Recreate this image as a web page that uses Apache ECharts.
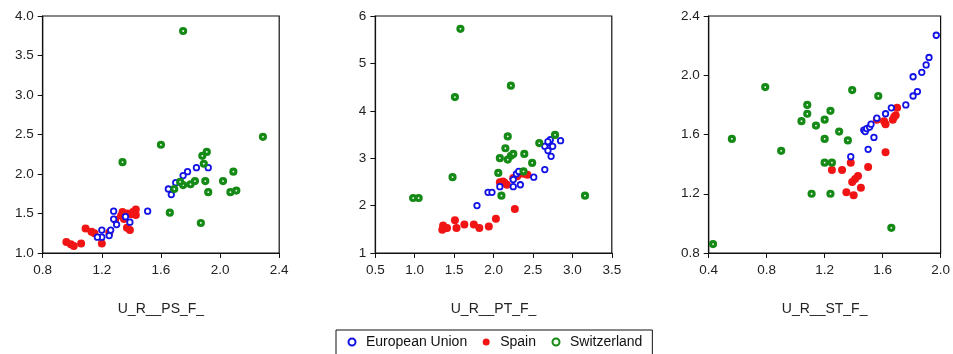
<!DOCTYPE html>
<html>
<head>
<meta charset="utf-8">
<script src="https://cdn.jsdelivr.net/npm/echarts@6/dist/echarts.min.js"></script>
<style>
html,body{margin:0;padding:0;background:#fff;}
#chart{width:953px;height:354px;}
</style>
</head>
<body>
<div id="chart"></div>
<script>
// ---- Data ----
var seriesNames = ['European Union', 'Spain', 'Switzerland'];
var axisTitles = ['U_R__PS_F_', 'U_R__PT_F_', 'U_R__ST_F_'];

// Panel 1: U_R__PS_F_
var psEU = [[1.92,2.08],[1.84,2.08],[1.78,2.03],[1.75,1.98],[1.70,1.89],[1.65,1.81],[1.67,1.74],[1.51,1.53],[1.28,1.53],[1.28,1.43],[1.30,1.36],[1.36,1.46],[1.39,1.39],[1.26,1.29],[1.20,1.29],[1.25,1.22],[1.20,1.20],[1.17,1.20]];
var psES = [[0.96,1.14],[0.99,1.11],[1.01,1.09],[1.06,1.12],[1.09,1.31],[1.13,1.27],[1.15,1.25],[1.20,1.12],[1.25,1.26],[1.29,1.42],[1.33,1.47],[1.34,1.52],[1.35,1.43],[1.37,1.50],[1.37,1.32],[1.39,1.29],[1.40,1.49],[1.43,1.55],[1.43,1.48],[1.41,1.52]];
var psCH = [[1.75,3.81],[2.29,2.47],[1.60,2.37],[1.34,2.15],[1.91,2.28],[1.88,2.23],[1.89,2.13],[2.09,2.03],[2.02,1.91],[1.90,1.91],[1.83,1.91],[1.80,1.87],[1.75,1.86],[1.69,1.81],[1.73,1.90],[1.92,1.77],[2.07,1.77],[2.11,1.79],[1.66,1.51],[1.87,1.38]];

// Panel 2: U_R__PT_F_
var ptEU = [[1.79,2.00],[1.93,2.28],[1.98,2.28],[2.08,2.40],[2.25,2.40],[2.25,2.55],[2.34,2.44],[2.29,2.67],[2.32,2.72],[2.51,2.60],[2.65,2.76],[2.65,3.25],[2.71,3.32],[2.72,3.39],[2.69,3.16],[2.75,3.25],[2.73,3.04],[2.85,3.37],[2.69,3.35]];
var ptES = [[1.36,1.58],[1.35,1.49],[1.37,1.53],[1.41,1.53],[1.51,1.69],[1.53,1.53],[1.63,1.60],[1.75,1.60],[1.82,1.53],[1.94,1.56],[2.03,1.72],[2.27,1.93],[2.08,2.49],[2.14,2.48],[2.17,2.44],[2.25,2.58],[2.30,2.62],[2.38,2.67],[2.43,2.65],[2.12,2.51]];
var ptCH = [[1.58,5.73],[2.22,4.53],[1.51,4.29],[0.98,2.16],[1.05,2.16],[1.48,2.60],[3.16,2.21],[2.10,2.21],[2.06,2.69],[2.08,3.00],[2.15,3.21],[2.18,3.46],[2.18,2.97],[2.22,3.05],[2.25,3.09],[2.39,3.09],[2.49,2.90],[2.58,3.32],[2.78,3.49],[2.38,2.72]];

// Panel 3: U_R__ST_F_
var stEU = [[1.38,1.45],[1.50,1.50],[1.54,1.58],[1.47,1.63],[1.48,1.62],[1.49,1.64],[1.51,1.65],[1.52,1.67],[1.56,1.71],[1.62,1.74],[1.66,1.78],[1.76,1.80],[1.81,1.86],[1.84,1.89],[1.81,1.99],[1.87,2.02],[1.90,2.07],[1.92,2.12],[1.97,2.27]];
var stES = [[1.25,1.36],[1.32,1.36],[1.38,1.41],[1.39,1.28],[1.41,1.30],[1.43,1.32],[1.35,1.21],[1.40,1.19],[1.45,1.24],[1.50,1.38],[1.62,1.48],[1.56,1.70],[1.61,1.69],[1.62,1.67],[1.67,1.70],[1.68,1.72],[1.69,1.73],[1.70,1.78]];
var stCH = [[0.43,0.86],[0.56,1.57],[0.79,1.92],[0.90,1.49],[1.04,1.69],[1.08,1.74],[1.08,1.80],[1.14,1.66],[1.11,1.20],[1.20,1.70],[1.20,1.57],[1.20,1.41],[1.24,1.76],[1.25,1.41],[1.24,1.20],[1.30,1.62],[1.36,1.56],[1.39,1.90],[1.57,1.86],[1.66,0.97]];

// Axis ranges: [min, max, interval]
var xRanges = [[0.8, 2.4, 0.4], [0.5, 3.5, 0.5], [0.4, 2.0, 0.4]];
var yRanges = [[1.0, 4.0, 0.5], [1, 6, 1], [0.8, 2.4, 0.4]];
var yDecimals = [1, 0, 1];

var panels = [[psEU, psES, psCH], [ptEU, ptES, ptCH], [stEU, stES, stCH]];

// ---- Styling ----
var FONT = '"Liberation Sans", Arial, sans-serif';
var colors = { eu: '#1212e6', es: '#f01414', ch: '#168a16' };
var gridLefts = [42.7, 375.3, 708.7];

var grids = [], xAxes = [], yAxes = [], series = [];
gridLefts.forEach(function (left, i) {
  grids.push({ left: left, top: 16, width: 236.5, height: 237, show: true,
    borderColor: '#111', borderWidth: 1.2, backgroundColor: '#fff' });
  xAxes.push({
    gridIndex: i, type: 'value', min: xRanges[i][0], max: xRanges[i][1], interval: xRanges[i][2],
    name: axisTitles[i], nameLocation: 'middle', nameGap: 49,
    nameTextStyle: { fontFamily: FONT, fontSize: 14, color: '#222' },
    axisLine: { show: true, onZero: false, lineStyle: { color: '#111', width: 1.2 } },
    axisTick: { show: true, length: 5, lineStyle: { color: '#111' } },
    axisLabel: { fontFamily: FONT, fontSize: 13.5, color: '#222', margin: 10,
      formatter: function (v) { return v.toFixed(1); } },
    splitLine: { show: false }
  });
  yAxes.push({
    gridIndex: i, type: 'value', min: yRanges[i][0], max: yRanges[i][1], interval: yRanges[i][2],
    axisLine: { show: true, onZero: false, lineStyle: { color: '#111', width: 1.2 } },
    axisTick: { show: true, length: 5, lineStyle: { color: '#111' } },
    axisLabel: { fontFamily: FONT, fontSize: 13.5, color: '#222', margin: 9,
      formatter: (function (d) { return function (v) { return v.toFixed(d); }; })(yDecimals[i]) },
    splitLine: { show: false }
  });
  var d = panels[i];
  series.push({ name: seriesNames[1], type: 'scatter', xAxisIndex: i, yAxisIndex: i, data: d[1],
    symbol: 'circle', symbolSize: 8, itemStyle: { color: colors.es, opacity: 1 }, z: 2 });
  series.push({ name: seriesNames[0], type: 'scatter', xAxisIndex: i, yAxisIndex: i, data: d[0],
    symbol: 'circle', symbolSize: 5.5,
    itemStyle: { color: '#fff', borderColor: colors.eu, borderWidth: 1.8, opacity: 1 }, z: 3 });
  series.push({ name: seriesNames[2], type: 'scatter', xAxisIndex: i, yAxisIndex: i, data: d[2],
    symbol: 'circle', symbolSize: 5,
    itemStyle: { color: '#f4fff4', borderColor: colors.ch, borderWidth: 3.2, opacity: 1 }, z: 4 });
});

var chart = echarts.init(document.getElementById('chart'), null, { renderer: 'canvas' });
chart.setOption({
  backgroundColor: '#fff',
  animation: false,
  grid: grids,
  xAxis: xAxes,
  yAxis: yAxes,
  legend: {
    data: seriesNames,
    left: 336, top: 330,
    orient: 'horizontal',
    borderColor: '#111', borderWidth: 1,
    padding: [5, 10, 8, 11.5],
    itemGap: 15.5, itemWidth: 18, itemHeight: 7,
    textStyle: { fontFamily: FONT, fontSize: 14, color: '#111' }
  },
  series: series
});
</script>
</body>
</html>
